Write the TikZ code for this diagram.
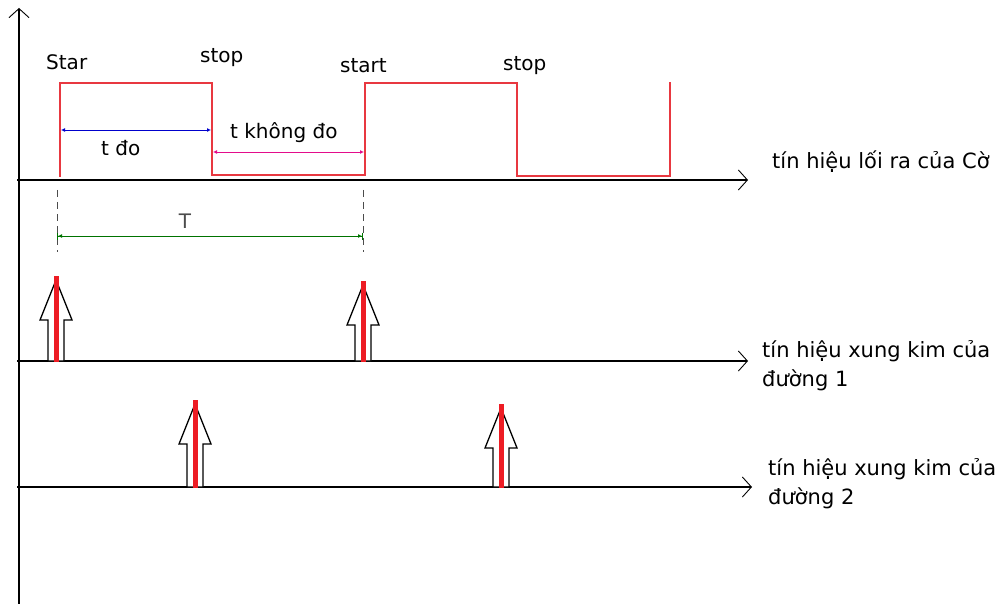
\documentclass[tikz,border=0pt]{standalone}
\usepackage{fontspec}
\setmainfont{DejaVu Sans}
\usetikzlibrary{arrows.meta}
\definecolor{pulsered}{RGB}{237,28,36}
\definecolor{sigred}{RGB}{232,56,64}
\begin{document}
\begin{tikzpicture}[x=1pt,y=-1pt,
  axis/.style={line width=1.2pt,black},
  axistip/.style={-{Straight Barb[length=9pt,width=20pt,line width=0.9pt]}},
  sig/.style={line width=2.2pt,sigred,line join=miter},
  lbl/.style={font=\fontsize{20}{29}\selectfont,inner sep=0pt,anchor=west},
  rlbl/.style={font=\fontsize{21}{29}\selectfont,inner sep=0pt,anchor=west},
  dim/.style={line width=0.9pt,{Latex[length=4pt,width=4pt]}-{Latex[length=4pt,width=4pt]}},
  guide/.style={gray!60!black,line width=0.9pt,dash pattern=on 7pt off 5pt},
  blockarrow/.style={draw=black,line width=1.3pt,fill=white},
  pulse/.style={line width=5pt,pulsered}
]
\useasboundingbox (0,0) rectangle (1006,604);
% y axis
\coordinate (yb) at (19,604);
\coordinate (yt) at (19,8);
\draw[axis,axistip] (yb) -- (yt);
% time axes
\coordinate (a1s) at (17,180); \coordinate (a1e) at (748,180);
\coordinate (a2s) at (17,361); \coordinate (a2e) at (748,361);
\coordinate (a3s) at (17,487); \coordinate (a3e) at (752,487);
\draw[axis,axistip] (a1s) -- (a1e);
\draw[axis,axistip] (a2s) -- (a2e);
\draw[axis,axistip] (a3s) -- (a3e);
% output signal
\draw[sig] (60,177) -- (60,83) -- (212,83) -- (212,175) -- (365,175) -- (365,83) -- (517,83) -- (517,176) -- (670,176) -- (670,82);
% labels on signal
\node[lbl] (l1) at (46,62) {Star};
\node[lbl] (l2) at (200,58) {stop};
\node[lbl] (l3) at (340,66) {start};
\node[lbl] (l4) at (503,66) {stop};
% t do
\coordinate (td1) at (61,130); \coordinate (td2) at (211,130);
\draw[dim,blue!80!black] (td1) -- (td2);
\node[lbl] (ltd) at (101,148) {t đo};
% t khong do
\coordinate (tk1) at (213,152); \coordinate (tk2) at (364,152);
\draw[dim,magenta!90!violet] (tk1) -- (tk2);
\node[lbl] (ltk) at (230,133) {t không đo};
% guides and T
\coordinate (g1a) at (57,190); \coordinate (g1b) at (57,252);
\coordinate (g2a) at (363,190); \coordinate (g2b) at (363,252);
\draw[guide] (g1a) -- (g1b);
\draw[guide] (g2a) -- (g2b);
\coordinate (T1) at (57,236); \coordinate (T2) at (363,236);
\draw[line width=1pt,green!45!black,{Bar[width=7pt]Latex[length=4pt,width=4pt]}-{Latex[length=4pt,width=4pt]Bar[width=7pt]}] (T1) -- (T2);
\node[font=\fontsize{20}{22}\selectfont,text=black!70] (lT) at (185,221) {T};
% block arrows
\foreach \x/\yb/\yt in {56/361/280, 363/361/285, 195/487/404, 501/487/408} {
  \pgfmathsetmacro{\hb}{\yt+40}
  \draw[blockarrow] (\x-8,\yb) -- (\x-8,\hb) -- (\x-16,\hb) -- (\x,\yt) -- (\x+16,\hb) -- (\x+8,\hb) -- (\x+8,\yb) -- cycle;
  \draw[pulse] (\x,\yb+1) -- (\x,\yt-4);
}
% right labels
\node[rlbl] (r1) at (772,162) {tín hiệu lối ra của Cờ};
\node[rlbl,align=left] (r2) at (762,366) {tín hiệu xung kim của\\đường 1};
\node[rlbl,align=left] (r3) at (768,484) {tín hiệu xung kim của\\đường 2};
\end{tikzpicture}
\end{document}
